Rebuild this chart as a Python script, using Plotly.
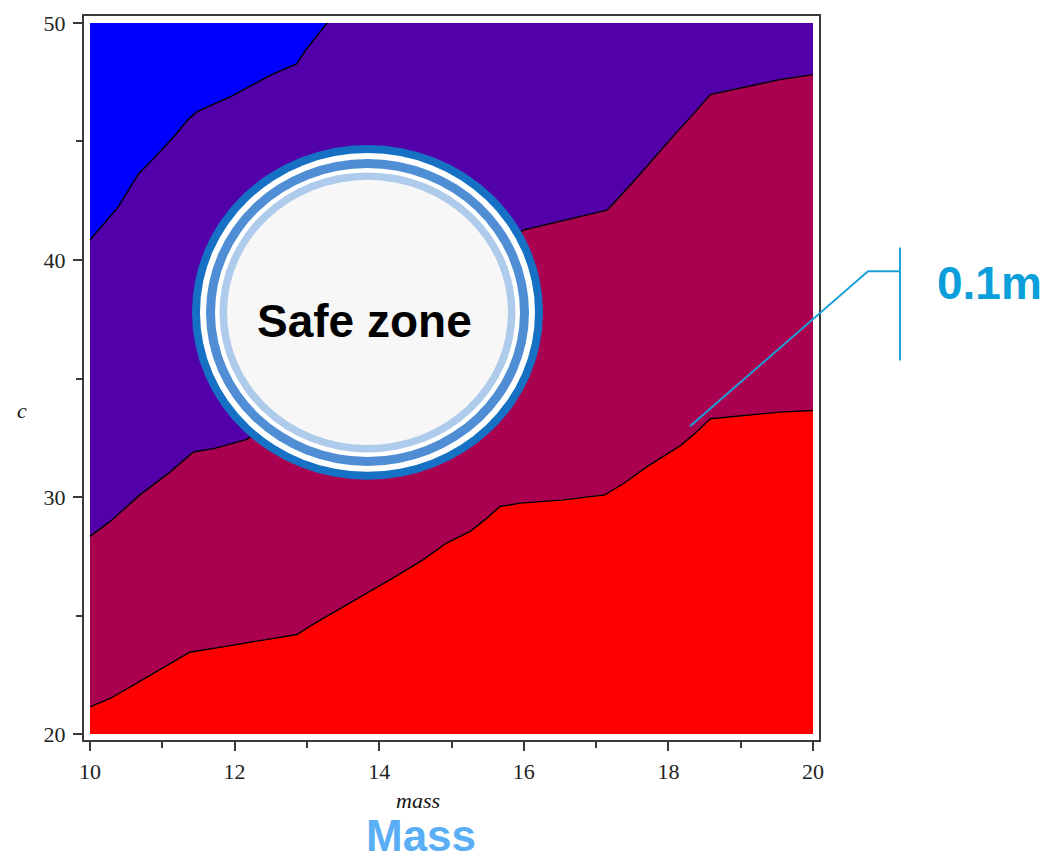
import plotly.graph_objects as go

# ---- data ----
x_bounds = [10, 20]
y_bounds = [20, 50]
x_ticks = [10, 12, 14, 16, 18, 20]
y_ticks = [20, 30, 40, 50]

# boundary blue / indigo
b1_x = [10.0, 10.22, 10.39, 10.67, 10.85, 11.15, 11.36, 11.48, 11.96, 12.51, 12.86, 12.97, 13.11, 13.28]
b1_y = [40.84, 41.61, 42.24, 43.63, 44.19, 45.17, 45.94, 46.26, 46.91, 47.82, 48.27, 48.8, 49.36, 50.0]
# boundary indigo / crimson
b2_x = [10.0, 10.28, 10.46, 10.69, 11.11, 11.43, 11.71, 12.17, 15.99, 16.59, 17.15, 17.24, 17.61,
        18.09, 18.32, 18.58, 19.54, 20.0]
b2_y = [28.34, 28.97, 29.46, 30.09, 31.06, 31.9, 32.04, 32.43, 41.26, 41.68, 42.1, 42.38, 43.63,
        45.31, 46.07, 46.98, 47.61, 47.82]
# boundary crimson / red
b3_x = [10.0, 10.28, 10.6, 11.06, 11.38, 11.94, 12.49, 12.86, 13.09, 13.41, 13.78, 14.24, 14.61,
        14.93, 15.26, 15.49, 15.67, 15.95, 16.55, 17.12, 17.38, 17.7, 18.17, 18.39, 18.58, 19.08,
        19.54, 20.0]
b3_y = [21.15, 21.5, 22.06, 22.9, 23.45, 23.73, 24.01, 24.2, 24.64, 25.2, 25.83, 26.67, 27.36,
        28.06, 28.55, 29.11, 29.6, 29.74, 29.88, 30.09, 30.57, 31.27, 32.18, 32.74, 33.3, 33.44,
        33.58, 33.65]

region_colors = ["#0000FF", "#5200AA", "#AA0050", "#FF0000"]

x0, x1 = x_bounds
y0, y1 = y_bounds

fig = go.Figure()

polys = [
    ([x0, x1, x1, x0], [y0, y0, y1, y1]),
    (b1_x + [x1, x1, x0], b1_y + [y1, y0, y0]),
    (b2_x + [x1, x0], b2_y + [y0, y0]),
    (b3_x + [x1, x0], b3_y + [y0, y0]),
]
for (px, py), col in zip(polys, region_colors):
    fig.add_trace(go.Scatter(x=px, y=py, mode="lines", fill="toself", fillcolor=col,
                             line=dict(width=0, color=col), hoverinfo="skip", showlegend=False))

for bx, by in [(b1_x, b1_y), (b2_x, b2_y), (b3_x, b3_y)]:
    fig.add_trace(go.Scatter(x=bx, y=by, mode="lines", line=dict(color="black", width=1.4),
                             hoverinfo="skip", showlegend=False))

# ---- layout geometry (pixels). Page body has an 8px margin, so the
#      figure is placed 8px right/down of the page origin. ----
OFF = 8
W, H = 1064 - OFF, 858 - OFF
L, R, T = 84 - OFF, 245, 11 - OFF
pw = W - L - R
ph = 729
B = H - T - ph
xpad = 6 / ((813 - 90) / 10)
ypad_b = 6 / ((734 - 18) / 30)
ypad_t = 7 / ((734 - 18) / 30)


def px2paper(px, py):
    fx, fy = px - OFF, py - OFF
    return (fx - L) / pw, (H - B - fy) / ph


axis_common = dict(showline=True, mirror=True, linecolor="#3a3a3a", linewidth=2,
                   ticks="outside", ticklen=9, tickwidth=2, tickcolor="#3a3a3a",
                   showgrid=False, zeroline=False, ticklabeloverflow="allow",
                   tickfont=dict(family="Liberation Serif", size=22, color="#222"))

fig.update_layout(
    width=W, height=H,
    margin=dict(l=L, r=R, t=T, b=B),
    plot_bgcolor="white", paper_bgcolor="white",
    xaxis=dict(range=[x0 - xpad, x1 + xpad], tickvals=x_ticks, ticklabelstandoff=2,
               minor=dict(dtick=1, tick0=10, ticks="outside", ticklen=6, tickwidth=2,
                          tickcolor="#3a3a3a", showgrid=False),
               **axis_common),
    yaxis=dict(range=[y0 - ypad_b, y1 + ypad_t], tickvals=y_ticks, ticklabelstandoff=3,
               minor=dict(dtick=5, tick0=20, ticks="outside", ticklen=6, tickwidth=2,
                          tickcolor="#3a3a3a", showgrid=False),
               **axis_common),
)

# ---- safe-zone badge ----
cx, cy, rx, ry = 367.5, 309.5, 175.5, 168.5
rings = [(0, "#1670C4"), (8, "#FFFFFF"), (14, "#4F8DD5"), (23, "#FFFFFF"),
         (27.5, "#AECBEB"), (35, "#F7F7F7")]
for d, col in rings:
    ax0, ay0 = px2paper(cx - rx + d, cy + ry - d)
    ax1, ay1 = px2paper(cx + rx - d, cy - ry + d)
    fig.add_shape(type="circle", xref="paper", yref="paper", x0=ax0, y0=ay0, x1=ax1, y1=ay1,
                  fillcolor=col, line=dict(width=0), layer="above")

sx, sy = px2paper(364, 318)
fig.add_annotation(x=sx, y=sy, xref="paper", yref="paper", text="<b>Safe zone</b>",
                   showarrow=False, xanchor="center", yanchor="middle",
                   font=dict(family="Liberation Sans", size=46, color="#000000"))

# ---- 0.1m callout ----
pts = [px2paper(690, 424), px2paper(868, 268), px2paper(900, 268)]
path = "M {} {} L {} {} L {} {}".format(*[v for p in pts for v in p])
fig.add_shape(type="path", xref="paper", yref="paper", path=path,
              line=dict(color="#1BA1D9", width=2), layer="above")
vx0, vy0 = px2paper(900, 244)
vx1, vy1 = px2paper(900, 358)
fig.add_shape(type="line", xref="paper", yref="paper", x0=vx0, y0=vy0, x1=vx1, y1=vy1,
              line=dict(color="#1BA1D9", width=2), layer="above")
tx, ty = px2paper(990, 280)
fig.add_annotation(x=tx, y=ty, xref="paper", yref="paper", text="<b>0.1m</b>",
                   showarrow=False, xanchor="center", yanchor="middle",
                   font=dict(family="Liberation Sans", size=46, color="#0A9FDB"))

# ---- axis titles ----
mx, my = px2paper(418, 801)
fig.add_annotation(x=mx, y=my, xref="paper", yref="paper", text="<i>mass</i>",
                   showarrow=False, xanchor="center", yanchor="middle", borderpad=0,
                   font=dict(family="Liberation Serif", size=22, color="#111"))
cxp, cyp = px2paper(22, 408)
fig.add_annotation(x=cxp, y=cyp, xref="paper", yref="paper", text="<i>c</i>",
                   showarrow=False, xanchor="center", yanchor="middle",
                   font=dict(family="Liberation Serif", size=22, color="#111"))
Mx, My = px2paper(421, 836)
fig.add_annotation(x=Mx, y=My, xref="paper", yref="paper", text="<b>Mass</b>",
                   showarrow=False, xanchor="center", yanchor="middle", borderpad=0,
                   font=dict(family="Liberation Sans", size=44, color="#5AAEF5"))

fig.write_html("out.html")
